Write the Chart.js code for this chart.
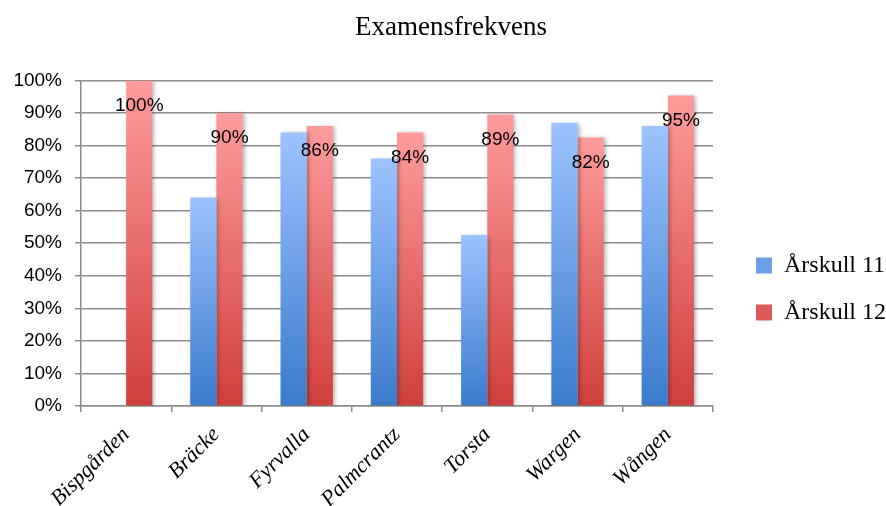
<!DOCTYPE html>
<html lang="sv">
<head>
  <meta charset="UTF-8">
  <title>Examensfrekvens</title>
  <script src="https://cdn.jsdelivr.net/npm/chart.js"></script>
  <style>
    body { margin: 0; background: #fff; }
    #wrap { width: 886px; height: 506px; }
  </style>
</head>
<body>
<div id="wrap"><canvas id="myChart" width="886" height="506"></canvas></div>
<script>
  const schools = ['Bispgården', 'Bräcke', 'Fyrvalla', 'Palmcrantz', 'Torsta', 'Wargen', 'Wången'];
  const arskull11 = [null, 0.64, 0.84, 0.76, 0.525, 0.87, 0.86];
  const arskull12 = [1.00, 0.90, 0.86, 0.84, 0.895, 0.825, 0.954];
  const labels12 = ['100%', '90%', '86%', '84%', '89%', '82%', '95%'];

  const serif = '"Liberation Serif", "Times New Roman", serif';
  const sans = '"Liberation Sans", Arial, sans-serif';

  // gradient per bar, light at the top, dark at the base
  function barFill(light, dark, mid) {
    return function (c) {
      const chart = c.chart;
      if (!chart.chartArea || c.raw == null) return mid;
      const y = chart.scales.y;
      const top = y.getPixelForValue(c.raw);
      const bot = y.getPixelForValue(0);
      if (!isFinite(top) || bot - top < 1) return mid;
      const g = chart.ctx.createLinearGradient(0, top, 0, bot);
      g.addColorStop(0, light);
      g.addColorStop(1, dark);
      return g;
    };
  }

  const shadowAndLabels = {
    id: 'shadowAndLabels',
    beforeDatasetsDraw(chart) {
      const ctx = chart.ctx;
      ctx.save();
      ctx.shadowColor = 'rgba(0,0,0,0.28)';
      ctx.shadowBlur = 4;
      ctx.shadowOffsetX = 2;
      ctx.shadowOffsetY = 1;
    },
    afterDatasetsDraw(chart) {
      const ctx = chart.ctx;
      ctx.restore();
      const meta = chart.getDatasetMeta(1);
      ctx.save();
      ctx.font = '19px ' + sans;
      ctx.fillStyle = '#000';
      ctx.textAlign = 'center';
      ctx.textBaseline = 'middle';
      meta.data.forEach((bar, i) => {
        ctx.fillText(labels12[i], bar.x, bar.y + 25);
      });
      ctx.restore();
    }
  };

  const ctx = document.getElementById('myChart').getContext('2d');
  const myChart = new Chart(ctx, {
    type: 'bar',
    data: {
      labels: schools,
      datasets: [
        {
          label: 'Årskull 11',
          data: arskull11,
          backgroundColor: barFill('#9dc3ff', '#3a7bcc', '#6b9fe6'),
          categoryPercentage: 0.58,
          barPercentage: 1.0
        },
        {
          label: 'Årskull 12',
          data: arskull12,
          backgroundColor: barFill('#ff9c9c', '#cf3f3c', '#e86c6a'),
          categoryPercentage: 0.58,
          barPercentage: 1.0
        }
      ]
    },
    options: {
      responsive: false,
      animation: false,
      layout: { padding: { left: 6, right: -10, top: 4, bottom: 0 } },
      plugins: {
        title: {
          display: true,
          text: 'Examensfrekvens',
          color: '#000',
          font: { family: serif, size: 27, weight: 'normal' },
          padding: { top: 8, bottom: 36 }
        },
        legend: {
          position: 'right',
          maxWidth: 300,
          title: { display: true, text: '', font: { size: 10 }, padding: { top: 56, bottom: 0 } },
          labels: {
            color: '#000',
            font: { family: serif, size: 24 },
            boxWidth: 16,
            boxHeight: 16,
            padding: 23
          }
        },
        tooltip: { enabled: false }
      },
      scales: {
        y: {
          min: 0,
          max: 1,
          afterFit: s => { s.width = 75; },
          ticks: {
            stepSize: 0.1,
            color: '#000',
            font: { family: sans, size: 19 },
            padding: 13,
            callback: v => Math.round(v * 100) + '%'
          },
          grid: {
            color: '#8c8c8c',
            lineWidth: 1.5,
            tickLength: 6
          },
          border: { color: '#8c8c8c', width: 1.5 }
        },
        gap: {
          position: 'right',
          afterFit: s => { s.width = 20; },
          ticks: { display: false },
          grid: { display: false },
          border: { display: false }
        },
        x: {
          afterFit: s => { s.height = 100; },
          ticks: {
            color: '#000',
            font: { family: serif, size: 22, style: 'italic' },
            minRotation: 45,
            maxRotation: 45,
            padding: 10
          },
          grid: {
            offset: true,
            drawOnChartArea: false,
            color: '#8c8c8c',
            lineWidth: 1.5,
            tickLength: 6
          },
          border: { color: '#8c8c8c', width: 1.5 }
        }
      }
    },
    plugins: [shadowAndLabels]
  });
</script>
</body>
</html>
